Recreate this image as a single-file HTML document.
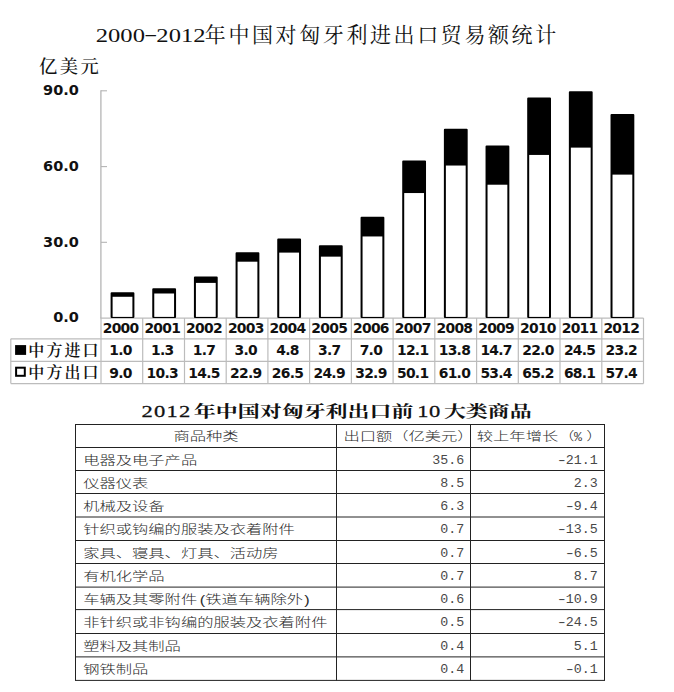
<!DOCTYPE html>
<html lang="zh-CN"><head><meta charset="utf-8"><title>2000-2012年中国对匈牙利进出口贸易额统计</title>
<style>html,body{margin:0;padding:0;background:#fff;}body{width:674px;height:692px;overflow:hidden;}svg{display:block;}.t1{font-family:"Liberation Serif", "Noto Serif CJK SC", serif;font-size:21px;fill:#111;letter-spacing:2.6px;}.t1d{font-family:"Liberation Serif", "Noto Serif CJK SC", serif;font-size:18.4px;fill:#111;}.u{font-family:"Liberation Serif", "Noto Serif CJK SC", serif;font-size:18.3px;font-weight:500;fill:#111;letter-spacing:2.5px;}.ax{font-family:"DejaVu Sans", "Liberation Sans", sans-serif;font-weight:bold;font-size:14.5px;fill:#111;}.dn{font-family:"DejaVu Sans", "Liberation Sans", sans-serif;font-weight:bold;font-size:13.9px;fill:#111;letter-spacing:-0.72px;}.lg{font-family:"Liberation Serif", "Noto Serif CJK SC", serif;font-size:16px;font-weight:600;fill:#111;letter-spacing:2.1px;}.t2{font-family:"Liberation Serif", "Noto Serif CJK SC", serif;font-weight:700;font-size:15.6px;fill:#111;letter-spacing:0px;}.tb{font-family:"Liberation Sans", "Noto Sans CJK SC", sans-serif;font-size:12px;fill:#2a2a2a;font-weight:300;}.mn{font-family:"Liberation Mono", "DejaVu Sans Mono", monospace;font-size:12px;fill:#484848;}</style></head><body>
<svg width="674" height="692" viewBox="0 0 674 692">
<rect x="0" y="0" width="674" height="692" fill="#fff"/>
<text class="t1d" transform="translate(95.8 41.7) scale(1.336 1)">2000</text>
<text class="t1d" transform="translate(144 39.8) scale(2.2 1)">-</text>
<text class="t1d" transform="translate(156.356 41.7) scale(1.336 1)">2012</text>
<text class="t1" x="204.8" y="42.2">年中国对匈牙利进出口贸易额统计</text>
<text class="u" x="38.9" y="73.2">亿美元</text>
<path d="M100.3 318.1 H643.5" stroke="#bcbcbc" stroke-width="1.2" fill="none"/>
<rect x="111.60" y="293.26" width="21.80" height="23.84" fill="#000" stroke="#000" stroke-width="2.0" stroke-linejoin="round"/>
<rect x="112.60" y="296.78" width="19.80" height="20.12" fill="#fff"/>
<rect x="153.26" y="289.22" width="21.80" height="27.88" fill="#000" stroke="#000" stroke-width="2.0" stroke-linejoin="round"/>
<rect x="154.26" y="293.50" width="19.80" height="23.40" fill="#fff"/>
<rect x="194.92" y="277.61" width="21.80" height="39.49" fill="#000" stroke="#000" stroke-width="2.0" stroke-linejoin="round"/>
<rect x="195.92" y="282.90" width="19.80" height="34.00" fill="#fff"/>
<rect x="236.58" y="253.13" width="21.80" height="63.97" fill="#000" stroke="#000" stroke-width="2.0" stroke-linejoin="round"/>
<rect x="237.58" y="261.70" width="19.80" height="55.20" fill="#fff"/>
<rect x="278.24" y="239.50" width="21.80" height="77.60" fill="#000" stroke="#000" stroke-width="2.0" stroke-linejoin="round"/>
<rect x="279.24" y="252.61" width="19.80" height="64.29" fill="#fff"/>
<rect x="319.90" y="246.31" width="21.80" height="70.79" fill="#000" stroke="#000" stroke-width="2.0" stroke-linejoin="round"/>
<rect x="320.90" y="256.65" width="19.80" height="60.25" fill="#fff"/>
<rect x="361.56" y="217.79" width="21.80" height="99.31" fill="#000" stroke="#000" stroke-width="2.0" stroke-linejoin="round"/>
<rect x="362.56" y="236.46" width="19.80" height="80.44" fill="#fff"/>
<rect x="403.22" y="161.51" width="21.80" height="155.59" fill="#000" stroke="#000" stroke-width="2.0" stroke-linejoin="round"/>
<rect x="404.22" y="193.05" width="19.80" height="123.85" fill="#fff"/>
<rect x="444.88" y="129.70" width="21.80" height="187.40" fill="#000" stroke="#000" stroke-width="2.0" stroke-linejoin="round"/>
<rect x="445.88" y="165.54" width="19.80" height="151.36" fill="#fff"/>
<rect x="486.54" y="146.62" width="21.80" height="170.48" fill="#000" stroke="#000" stroke-width="2.0" stroke-linejoin="round"/>
<rect x="487.54" y="184.72" width="19.80" height="132.18" fill="#fff"/>
<rect x="528.20" y="98.41" width="21.80" height="218.69" fill="#000" stroke="#000" stroke-width="2.0" stroke-linejoin="round"/>
<rect x="529.20" y="154.94" width="19.80" height="161.96" fill="#fff"/>
<rect x="569.86" y="92.20" width="21.80" height="224.90" fill="#000" stroke="#000" stroke-width="2.0" stroke-linejoin="round"/>
<rect x="570.86" y="147.62" width="19.80" height="169.28" fill="#fff"/>
<rect x="611.52" y="115.07" width="21.80" height="202.03" fill="#000" stroke="#000" stroke-width="2.0" stroke-linejoin="round"/>
<rect x="612.52" y="174.62" width="19.80" height="142.28" fill="#fff"/>
<path d="M100.9 90.3 V318.0" stroke="#b4b4b4" stroke-width="1.3" fill="none"/>
<path d="M101.0 242.3 H107.0" stroke="#b4b4b4" stroke-width="1.1" fill="none"/>
<path d="M101.0 166.6 H107.0" stroke="#b4b4b4" stroke-width="1.1" fill="none"/>
<path d="M101.0 90.8 H107.0" stroke="#b4b4b4" stroke-width="1.1" fill="none"/>
<text class="ax" x="78.9" y="322.4" text-anchor="end">0.0</text>
<text class="ax" x="78.9" y="246.7" text-anchor="end">30.0</text>
<text class="ax" x="78.9" y="171.0" text-anchor="end">60.0</text>
<text class="ax" x="78.9" y="95.2" text-anchor="end">90.0</text>
<g stroke="#bcbcbc" stroke-width="1.2" fill="none">
<path d="M10.8 338.8 H643.5"/>
<path d="M10.8 361.3 H643.5"/>
<path d="M10.8 383.6 H643.5"/>
<path d="M10.8 338.8 V383.6"/>
<path d="M101.0 318.0 V383.6"/>
<path d="M142.7 318.0 V383.6"/>
<path d="M184.5 318.0 V383.6"/>
<path d="M226.2 318.0 V383.6"/>
<path d="M267.9 318.0 V383.6"/>
<path d="M309.6 318.0 V383.6"/>
<path d="M351.4 318.0 V383.6"/>
<path d="M393.1 318.0 V383.6"/>
<path d="M434.8 318.0 V383.6"/>
<path d="M476.6 318.0 V383.6"/>
<path d="M518.3 318.0 V383.6"/>
<path d="M560.0 318.0 V383.6"/>
<path d="M601.8 318.0 V383.6"/>
<path d="M643.5 318.0 V383.6"/>
</g>
<text class="dn" x="120.6" y="333.4" text-anchor="middle">2000</text>
<text class="dn" x="120.6" y="354.9" text-anchor="middle">1.0</text>
<text class="dn" x="120.6" y="378.0" text-anchor="middle">9.0</text>
<text class="dn" x="162.3" y="333.4" text-anchor="middle">2001</text>
<text class="dn" x="162.3" y="354.9" text-anchor="middle">1.3</text>
<text class="dn" x="162.3" y="378.0" text-anchor="middle">10.3</text>
<text class="dn" x="204.0" y="333.4" text-anchor="middle">2002</text>
<text class="dn" x="204.0" y="354.9" text-anchor="middle">1.7</text>
<text class="dn" x="204.0" y="378.0" text-anchor="middle">14.5</text>
<text class="dn" x="245.8" y="333.4" text-anchor="middle">2003</text>
<text class="dn" x="245.8" y="354.9" text-anchor="middle">3.0</text>
<text class="dn" x="245.8" y="378.0" text-anchor="middle">22.9</text>
<text class="dn" x="287.5" y="333.4" text-anchor="middle">2004</text>
<text class="dn" x="287.5" y="354.9" text-anchor="middle">4.8</text>
<text class="dn" x="287.5" y="378.0" text-anchor="middle">26.5</text>
<text class="dn" x="329.2" y="333.4" text-anchor="middle">2005</text>
<text class="dn" x="329.2" y="354.9" text-anchor="middle">3.7</text>
<text class="dn" x="329.2" y="378.0" text-anchor="middle">24.9</text>
<text class="dn" x="370.9" y="333.4" text-anchor="middle">2006</text>
<text class="dn" x="370.9" y="354.9" text-anchor="middle">7.0</text>
<text class="dn" x="370.9" y="378.0" text-anchor="middle">32.9</text>
<text class="dn" x="412.7" y="333.4" text-anchor="middle">2007</text>
<text class="dn" x="412.7" y="354.9" text-anchor="middle">12.1</text>
<text class="dn" x="412.7" y="378.0" text-anchor="middle">50.1</text>
<text class="dn" x="454.4" y="333.4" text-anchor="middle">2008</text>
<text class="dn" x="454.4" y="354.9" text-anchor="middle">13.8</text>
<text class="dn" x="454.4" y="378.0" text-anchor="middle">61.0</text>
<text class="dn" x="496.1" y="333.4" text-anchor="middle">2009</text>
<text class="dn" x="496.1" y="354.9" text-anchor="middle">14.7</text>
<text class="dn" x="496.1" y="378.0" text-anchor="middle">53.4</text>
<text class="dn" x="537.9" y="333.4" text-anchor="middle">2010</text>
<text class="dn" x="537.9" y="354.9" text-anchor="middle">22.0</text>
<text class="dn" x="537.9" y="378.0" text-anchor="middle">65.2</text>
<text class="dn" x="579.6" y="333.4" text-anchor="middle">2011</text>
<text class="dn" x="579.6" y="354.9" text-anchor="middle">24.5</text>
<text class="dn" x="579.6" y="378.0" text-anchor="middle">68.1</text>
<text class="dn" x="621.3" y="333.4" text-anchor="middle">2012</text>
<text class="dn" x="621.3" y="354.9" text-anchor="middle">23.2</text>
<text class="dn" x="621.3" y="378.0" text-anchor="middle">57.4</text>
<rect x="15.1" y="345.1" width="11" height="9.8" fill="#000"/>
<rect x="16.1" y="367.7" width="8.7" height="8.1" fill="#fff" stroke="#000" stroke-width="2"/>
<text class="lg" x="28.3" y="355.6">中方进口</text>
<text class="lg" x="28.3" y="377.9">中方出口</text>
<text class="t2" transform="translate(0 417) scale(1.41 1)"><tspan x="100.35" letter-spacing="0.9" font-weight="normal" stroke="#111" stroke-width="0.25" font-size="16">2012 </tspan><tspan x="137.45">年中国对匈牙利出口前 </tspan><tspan x="295.89" letter-spacing="0.4" font-weight="normal" stroke="#111" stroke-width="0.25" font-size="16">10 </tspan><tspan x="314.82">大类商品</tspan></text>
<g stroke="#222" stroke-width="1" fill="none">
<path d="M75.0 424.5 H605.0"/>
<path d="M75.0 447.5 H605.0"/>
<path d="M75.0 470.5 H605.0"/>
<path d="M75.0 493.5 H605.0"/>
<path d="M75.0 517.0 H605.0"/>
<path d="M75.0 540.5 H605.0"/>
<path d="M75.0 563.5 H605.0"/>
<path d="M75.0 587.1 H605.0"/>
<path d="M75.0 609.6 H605.0"/>
<path d="M75.0 633.5 H605.0"/>
<path d="M75.0 656.9 H605.0"/>
<path d="M75.0 680.4 H605.0"/>
<path d="M75.5 424.5 V680.4"/>
<path d="M336.5 424.5 V680.4"/>
<path d="M470.5 424.5 V680.4"/>
<path d="M604.5 424.5 V680.4"/>
</g>
<text class="tb" transform="translate(206.0 441.3) scale(1.358 1)" text-anchor="middle">商品种类</text>
<text class="tb" transform="translate(343.4 441.3) scale(1.358 1)" text-anchor="start">出口额（亿美元）</text>
<text class="tb" transform="translate(476.8 441.3) scale(1.358 1)" text-anchor="start">较上年增长（</text>
<text class="mn" transform="translate(574.0 440.7) scale(1.111 1)" text-anchor="start">%</text>
<text class="tb" transform="translate(586.3 441.3) scale(1.358 1)" text-anchor="start">）</text>
<text class="tb" transform="translate(83.2 464.5) scale(1.358 1)" text-anchor="start">电器及电子产品</text>
<text class="mn" transform="translate(464.2 463.6) scale(1.111 1)" text-anchor="end">35.6</text>
<text class="mn" transform="translate(567.5 463.6) scale(1.611 1)" text-anchor="end">-</text>
<text class="mn" transform="translate(597.8 463.6) scale(1.111 1)" text-anchor="end">21.1</text>
<text class="tb" transform="translate(83.2 487.5) scale(1.358 1)" text-anchor="start">仪器仪表</text>
<text class="mn" transform="translate(464.2 486.6) scale(1.111 1)" text-anchor="end">8.5</text>
<text class="mn" transform="translate(597.8 486.6) scale(1.111 1)" text-anchor="end">2.3</text>
<text class="tb" transform="translate(83.2 510.8) scale(1.358 1)" text-anchor="start">机械及设备</text>
<text class="mn" transform="translate(464.2 509.9) scale(1.111 1)" text-anchor="end">6.3</text>
<text class="mn" transform="translate(575.5 509.9) scale(1.611 1)" text-anchor="end">-</text>
<text class="mn" transform="translate(597.8 509.9) scale(1.111 1)" text-anchor="end">9.4</text>
<text class="tb" transform="translate(83.2 534.2) scale(1.358 1)" text-anchor="start">针织或钩编的服装及衣着附件</text>
<text class="mn" transform="translate(464.2 533.4) scale(1.111 1)" text-anchor="end">0.7</text>
<text class="mn" transform="translate(567.5 533.4) scale(1.611 1)" text-anchor="end">-</text>
<text class="mn" transform="translate(597.8 533.4) scale(1.111 1)" text-anchor="end">13.5</text>
<text class="tb" transform="translate(83.2 557.5) scale(1.358 1)" text-anchor="start">家具、寝具、灯具、活动房</text>
<text class="mn" transform="translate(464.2 556.6) scale(1.111 1)" text-anchor="end">0.7</text>
<text class="mn" transform="translate(575.5 556.6) scale(1.611 1)" text-anchor="end">-</text>
<text class="mn" transform="translate(597.8 556.6) scale(1.111 1)" text-anchor="end">6.5</text>
<text class="tb" transform="translate(83.2 580.8) scale(1.358 1)" text-anchor="start">有机化学品</text>
<text class="mn" transform="translate(464.2 579.9) scale(1.111 1)" text-anchor="end">0.7</text>
<text class="mn" transform="translate(597.8 579.9) scale(1.111 1)" text-anchor="end">8.7</text>
<text class="tb" transform="translate(83.2 603.9) scale(1.358 1)" text-anchor="start">车辆及其零附件<tspan dx="2">(</tspan>铁道车辆除外<tspan dx="1">)</tspan></text>
<text class="mn" transform="translate(464.2 603.0) scale(1.111 1)" text-anchor="end">0.6</text>
<text class="mn" transform="translate(567.5 603.0) scale(1.611 1)" text-anchor="end">-</text>
<text class="mn" transform="translate(597.8 603.0) scale(1.111 1)" text-anchor="end">10.9</text>
<text class="tb" transform="translate(83.2 627.0) scale(1.358 1)" text-anchor="start">非针织或非钩编的服装及衣着附件</text>
<text class="mn" transform="translate(464.2 626.1) scale(1.111 1)" text-anchor="end">0.5</text>
<text class="mn" transform="translate(567.5 626.1) scale(1.611 1)" text-anchor="end">-</text>
<text class="mn" transform="translate(597.8 626.1) scale(1.111 1)" text-anchor="end">24.5</text>
<text class="tb" transform="translate(83.2 650.7) scale(1.358 1)" text-anchor="start">塑料及其制品</text>
<text class="mn" transform="translate(464.2 649.8) scale(1.111 1)" text-anchor="end">0.4</text>
<text class="mn" transform="translate(597.8 649.8) scale(1.111 1)" text-anchor="end">5.1</text>
<text class="tb" transform="translate(83.2 674.1) scale(1.358 1)" text-anchor="start">钢铁制品</text>
<text class="mn" transform="translate(464.2 673.2) scale(1.111 1)" text-anchor="end">0.4</text>
<text class="mn" transform="translate(575.5 673.2) scale(1.611 1)" text-anchor="end">-</text>
<text class="mn" transform="translate(597.8 673.2) scale(1.111 1)" text-anchor="end">0.1</text>
</svg></body></html>
